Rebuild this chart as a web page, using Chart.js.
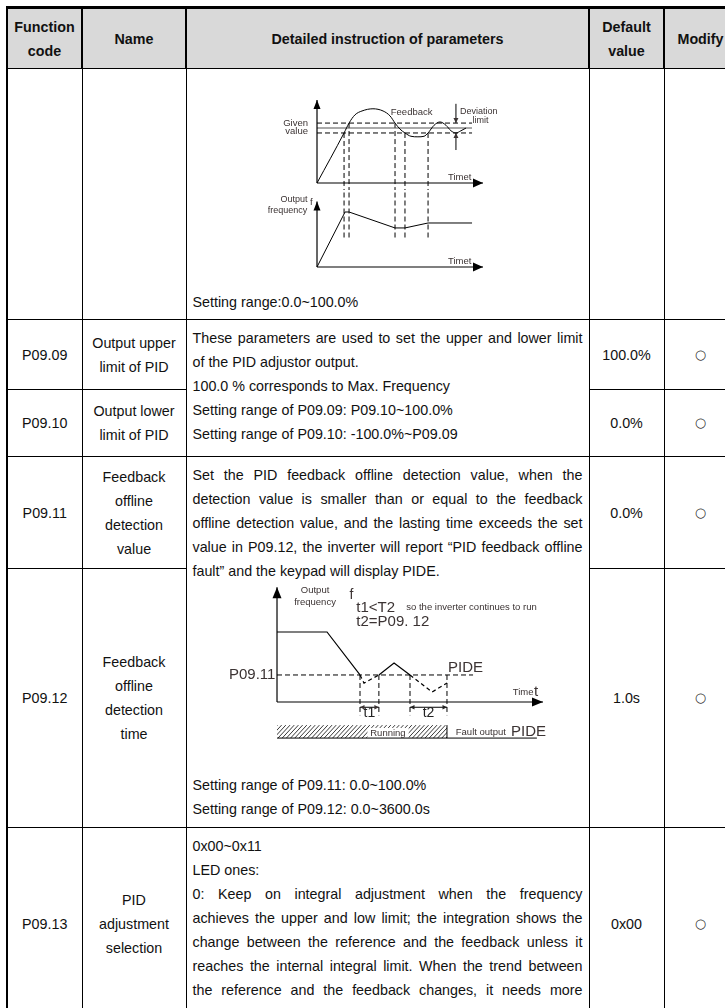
<!DOCTYPE html>
<html>
<head>
<meta charset="utf-8">
<script src="https://cdn.jsdelivr.net/npm/chart.js@4.4.1/dist/chart.umd.min.js"></script>
<style>
html, body { margin: 0; padding: 0; background: #fff; width: 725px; height: 1008px; overflow: hidden; }
body { position: relative; font-family: "Liberation Sans", Arial, sans-serif; color: #111; }
table { position: absolute; left: 6px; top: 6px; border-collapse: collapse; table-layout: fixed; width: 730px; border-top: 3px solid #000; border-left: 2px solid #000; }
td, th { border: 1px solid #000; padding: 0 4px; font-size: 14.3px; line-height: 24px; vertical-align: middle; text-align: center; }
th { background: #d9d9d9; font-weight: bold; border-width: 2px 2px 1px 2px; padding: 0 2px; }
td.d { text-align: left; vertical-align: top; padding: 6px 6px 0 6px; }
td.b { vertical-align: bottom; padding-bottom: 5px; }
.j { text-align: justify; text-align-last: justify; }
.m { font-family: "DejaVu Sans", sans-serif; font-size: 13px; color: #333; }
.box { position: absolute; }
</style>
</head>
<body>
<table>
  <colgroup><col style="width:75px"><col style="width:104px"><col style="width:403px"><col style="width:75px"><col style="width:73px"></colgroup>
  <tr style="height:61px">
    <th>Function<br>code</th><th>Name</th><th>Detailed instruction of parameters</th><th>Default<br>value</th><th>Modify</th>
  </tr>
  <tr style="height:251px">
    <td></td><td></td>
    <td class="d b">Setting range:0.0~100.0%</td>
    <td></td><td></td>
  </tr>
  <tr style="height:70px">
    <td>P09.09</td><td>Output upper<br>limit of PID</td>
    <td class="d" rowspan="2">
      <div class="j">These parameters are used to set the upper and lower limit</div>
      <div>of the PID adjustor output.</div>
      <div>100.0 % corresponds to Max. Frequency</div>
      <div>Setting range of P09.09: P09.10~100.0%</div>
      <div>Setting range of P09.10: -100.0%~P09.09</div>
    </td>
    <td>100.0%</td><td class="m">○</td>
  </tr>
  <tr style="height:67px">
    <td>P09.10</td><td>Output lower<br>limit of PID</td>
    <td>0.0%</td><td class="m">○</td>
  </tr>
  <tr style="height:112px">
    <td>P09.11</td><td>Feedback<br>offline<br>detection<br>value</td>
    <td class="d" rowspan="2">
      <div class="j">Set the PID feedback offline detection value, when the</div>
      <div class="j">detection value is smaller than or equal to the feedback</div>
      <div class="j">offline detection value, and the lasting time exceeds the set</div>
      <div class="j">value in P09.12, the inverter will report “PID feedback offline</div>
      <div>fault” and the keypad will display PIDE.</div>
      <div style="height:190px"></div>
      <div>Setting range of P09.11: 0.0~100.0%</div>
      <div>Setting range of P09.12: 0.0~3600.0s</div>
    </td>
    <td>0.0%</td><td class="m">○</td>
  </tr>
  <tr style="height:259px">
    <td>P09.12</td><td>Feedback<br>offline<br>detection<br>time</td>
    <td>1.0s</td><td class="m">○</td>
  </tr>
  <tr style="height:192px">
    <td>P09.13</td><td>PID<br>adjustment<br>selection</td>
    <td class="d">
      <div>0x00~0x11</div>
      <div>LED ones:</div>
      <div class="j">0: Keep on integral adjustment when the frequency</div>
      <div class="j">achieves the upper and low limit; the integration shows the</div>
      <div class="j">change between the reference and the feedback unless it</div>
      <div class="j">reaches the internal integral limit. When the trend between</div>
      <div class="j">the reference and the feedback changes, it needs more</div>
    </td>
    <td>0x00</td><td class="m">○</td>
  </tr>
</table>

<div class="box" style="left:268px;top:92px;width:232px;height:98px"><canvas id="fbChart" width="232" height="98"></canvas></div>
<div class="box" style="left:268px;top:190px;width:232px;height:87px"><canvas id="freqChart" width="232" height="87"></canvas></div>
<div class="box" style="left:222px;top:585px;width:330px;height:160px"><canvas id="offChart" width="330" height="160"></canvas></div>

<script>
// ---- PID diagram: feedback vs given value
const fbTime  = [0, 16.3, 19.3, 22.9, 27.1, 33.7, 39.8, 44.0, 47.0, 50.0, 53.0, 56.6, 60.8, 64.5, 66.9, 70.5, 74.1, 77.7, 80.7, 83.7, 86.7, 89.8];
const fbValue = [0, 0.91, 1.09, 1.24, 1.31, 1.35, 1.31, 1.22, 1.09, 0.98, 0.91, 0.85, 0.84, 0.85, 0.91, 1.05, 1.11, 1.05, 0.95, 0.91, 0.95, 1.0];
const givenValue = 1.0;
const deviationLimit = 0.09;
const bandEnd = 93.4;
// output frequency under PID
const freqTime  = [0, 16.9, 19.3, 47.0, 53.0, 66.9, 93.4];
const freqValue = [0, 1.0, 1.0, 0.71, 0.71, 0.8, 0.8];
// moments where feedback crosses the deviation band
const eventTime  = [16.3, 19.3, 47.0, 53.0, 66.9];
const eventLevel = [0.91, 1.09, 1.09, 0.91, 0.91];

// ---- feedback offline detection diagram
const outTime = [0, 18.8, 31.2, 32.7, 38.3, 44.0, 50.0, 58.3, 63.9];
const outFreq = [1, 1, 0.386, 0.27, 0.386, 0.557, 0.386, 0.143, 0.271];
const detectLevel = 0.386;   // P09.11
const detectEnd = 73.7;
const offStart = [31.2, 50.0];
const offEnd   = [38.3, 63.9];
const offLabel = ['t1', 't2'];

const pts = (xs, ys) => xs.map((v, i) => ({x: v, y: ys[i]}));
const FONT = '"Liberation Sans", Arial, sans-serif';
const LABEL = '#3b3333';

function arrowHead(ctx, x0, y0, x1, y1, len, wid) {
  const a = Math.atan2(y1 - y0, x1 - x0);
  ctx.beginPath();
  ctx.moveTo(x1, y1);
  ctx.lineTo(x1 - len * Math.cos(a) + wid * Math.sin(a), y1 - len * Math.sin(a) - wid * Math.cos(a));
  ctx.lineTo(x1 - len * Math.cos(a) - wid * Math.sin(a), y1 - len * Math.sin(a) + wid * Math.cos(a));
  ctx.closePath();
  ctx.fill();
}

function line(ctx, x0, y0, x1, y1) {
  ctx.beginPath(); ctx.moveTo(x0, y0); ctx.lineTo(x1, y1); ctx.stroke();
}

const diagram = {
  id: 'diagram',
  afterDatasetsDraw(chart, args, opts) {
    const {ctx, scales: {x, y}} = chart;
    const X = v => x.getPixelForValue(v), Y = v => y.getPixelForValue(v);
    ctx.save();
    ctx.strokeStyle = '#000'; ctx.fillStyle = '#000'; ctx.lineWidth = 1.2;
    (opts.axes || []).forEach(a => {
      line(ctx, X(a[0]), Y(a[1]), X(a[2]), Y(a[3]));
      arrowHead(ctx, X(a[0]), Y(a[1]), X(a[2]), Y(a[3]), a[4] || 9, a[5] || 4);
    });
    (opts.texts || []).forEach(t => {
      ctx.font = (t.size || 10) + 'px ' + FONT;
      ctx.fillStyle = t.color || LABEL;
      ctx.textAlign = t.align || 'left';
      ctx.textBaseline = 'middle';
      ctx.fillText(t.text, X(t.x), Y(t.y));
    });
    if (opts.extra) opts.extra(ctx, X, Y);
    ctx.restore();
  }
};

const base = (xmin, xmax, ymin, ymax) => ({
  responsive: false, animation: false, events: [],
  layout: {padding: 0},
  scales: {
    x: {type: 'linear', min: xmin, max: xmax, display: false},
    y: {type: 'linear', min: ymin, max: ymax, display: false}
  },
  elements: {point: {radius: 0}, line: {borderColor: '#000', borderWidth: 1}},
  plugins: {legend: {display: false}, tooltip: {enabled: false}}
});

const dashed = (data, extra) => Object.assign({data, borderDash: [5, 3], borderWidth: 1, borderColor: '#000', tension: 0}, extra || {});

// top: feedback
const fbOpts = base(-29.52, 110.24, -0.127, 1.655);
fbOpts.plugins.diagram = {
  axes: [[0, 0, 0, 1.51, 9, 3.5], [0, 0, 100, 0, 10, 4.5]],
  texts: [
    {text: 'Given', x: -5.4, y: 1.09, align: 'right', size: 9.5},
    {text: 'value', x: -5.4, y: 0.93, align: 'right', size: 9.5},
    {text: 'Feedback', x: 57, y: 1.28, align: 'center', size: 9.5},
    {text: 'Deviation', x: 97.5, y: 1.3, align: 'center', size: 9},
    {text: 'limit', x: 98.5, y: 1.13, align: 'center', size: 9},
    {text: 'Timet', x: 93, y: 0.1, align: 'right', size: 9.5}
  ],
  extra(ctx, X, Y) {
    const xa = X(bandEnd - 9.7);
    ctx.lineWidth = 1;
    line(ctx, xa, Y(1.44), xa, Y(givenValue + deviationLimit));
    arrowHead(ctx, xa, Y(1.44), xa, Y(givenValue + deviationLimit), 5, 2.5);
    line(ctx, xa, Y(0.6), xa, Y(givenValue - deviationLimit));
    arrowHead(ctx, xa, Y(0.6), xa, Y(givenValue - deviationLimit), 5, 2.5);
  }
};
new Chart(document.getElementById('fbChart'), {
  type: 'line',
  data: {datasets: [
    {data: pts(fbTime, fbValue), borderColor: '#000', borderWidth: 1, cubicInterpolationMode: 'monotone'},
    {data: pts([0, bandEnd], [givenValue, givenValue]), borderColor: '#555', borderWidth: 1.2},
    dashed(pts([0, bandEnd], [givenValue + deviationLimit, givenValue + deviationLimit])),
    dashed(pts([0, bandEnd], [givenValue - deviationLimit, givenValue - deviationLimit])),
    ...eventTime.map((t, i) => dashed(pts([t, t], [eventLevel[i], -0.2])))
  ]},
  options: fbOpts,
  plugins: [diagram]
});

// bottom: output frequency
const frOpts = base(-29.52, 110.24, -0.182, 1.4);
frOpts.plugins.diagram = {
  axes: [[0, 0, 0, 1.19, 9, 3.5], [0, 0, 100, 0, 10, 4.5]],
  texts: [
    {text: 'Output', x: -13.9, y: 1.22, align: 'center', size: 9},
    {text: 'frequency', x: -5.9, y: 1.03, align: 'right', size: 9},
    {text: 'f', x: -2.6, y: 1.17, align: 'right', size: 9.5},
    {text: 'Timet', x: 93, y: 0.1, align: 'right', size: 9.5}
  ]
};
new Chart(document.getElementById('freqChart'), {
  type: 'line',
  data: {datasets: [
    {data: pts(freqTime, freqValue), borderColor: '#000', borderWidth: 1, tension: 0},
    ...eventTime.map(t => dashed(pts([t, t], [1.5, 0.53])))
  ]},
  options: frOpts,
  plugins: [diagram]
});

// offline detection
const offOpts = base(-20.68, 103.38, -0.614, 1.671);
offOpts.plugins.diagram = {
  axes: [[0, 0, 0, 1.64, 11, 4.5], [0, 0, 100, 0, 11, 4.5]],
  texts: [
    {text: 'Output', x: 14.3, y: 1.59, align: 'center', size: 9.5},
    {text: 'frequency', x: 14.3, y: 1.42, align: 'center', size: 9.5},
    {text: 'f', x: 28, y: 1.53, align: 'center', size: 14},
    {text: 't1<T2', x: 29.8, y: 1.35, size: 15},
    {text: 'so the inverter continues to run', x: 48.6, y: 1.35, size: 9.5},
    {text: 't2=P09. 12', x: 29.8, y: 1.14, size: 15},
    {text: 'P09.11', x: -0.6, y: detectLevel, align: 'right', size: 15},
    {text: 'PIDE', x: 64.3, y: detectLevel + 0.1, size: 15},
    {text: 'Time', x: 96.4, y: 0.14, align: 'right', size: 9.5},
    {text: 't', x: 96.6, y: 0.15, size: 15},
    {text: 'Fault output', x: 67.2, y: -0.43, size: 9.5},
    {text: 'PIDE', x: 88, y: -0.43, size: 15}
  ],
  extra(ctx, X, Y) {
    ctx.lineWidth = 1;
    // t1 / t2 span arrows and labels
    offStart.forEach((s, i) => {
      const yy = Y(-0.075), xs = X(s), xe = X(offEnd[i]);
      line(ctx, xs, yy, xe, yy);
      arrowHead(ctx, xe, yy, xs, yy, 4.5, 2.2);
      arrowHead(ctx, xs, yy, xe, yy, 4.5, 2.2);
      ctx.font = '14px ' + FONT; ctx.fillStyle = '#222'; ctx.textAlign = 'center'; ctx.textBaseline = 'middle';
      ctx.fillText(offLabel[i], (xs + xe) / 2, Y(-0.16));
    });
    // running bar with hatching
    const x0 = X(0), x1 = X(offEnd[1]), y0 = Y(-0.33), y1 = Y(-0.515);
    ctx.save();
    ctx.beginPath(); ctx.rect(x0, y0, x1 - x0, y1 - y0); ctx.clip();
    ctx.lineWidth = 0.9; ctx.strokeStyle = '#222';
    for (let k = x0 - 20; k < x1 + 20; k += 4.2) line(ctx, k, y1, k + 12, y0);
    ctx.restore();
    ctx.fillStyle = '#fff';
    ctx.fillRect(X(34), Y(-0.37), X(49.5) - X(34), Y(-0.515) - Y(-0.37));
    ctx.font = '9.5px ' + FONT; ctx.fillStyle = LABEL; ctx.textAlign = 'center';
    ctx.fillText('Running', X(41.7), Y(-0.445));
    ctx.strokeStyle = '#000'; ctx.lineWidth = 1;
    line(ctx, x1, y0, x1, y1);
    line(ctx, x0, y1, X(97.7), y1);
  }
};
new Chart(document.getElementById('offChart'), {
  type: 'line',
  data: {datasets: [
    {data: pts(outTime, outFreq), borderColor: '#000', borderWidth: 1.2, tension: 0,
     segment: {borderDash: c => (c.p0.parsed.y < detectLevel - 1e-6 || c.p1.parsed.y < detectLevel - 1e-6) ? [4, 3] : undefined}},
    dashed(pts([0, detectEnd], [detectLevel, detectLevel])),
    ...offStart.concat(offEnd).map(t => dashed(pts([t, t], [detectLevel, -0.19])))
  ]},
  options: offOpts,
  plugins: [diagram]
});
</script>
</body>
</html>
